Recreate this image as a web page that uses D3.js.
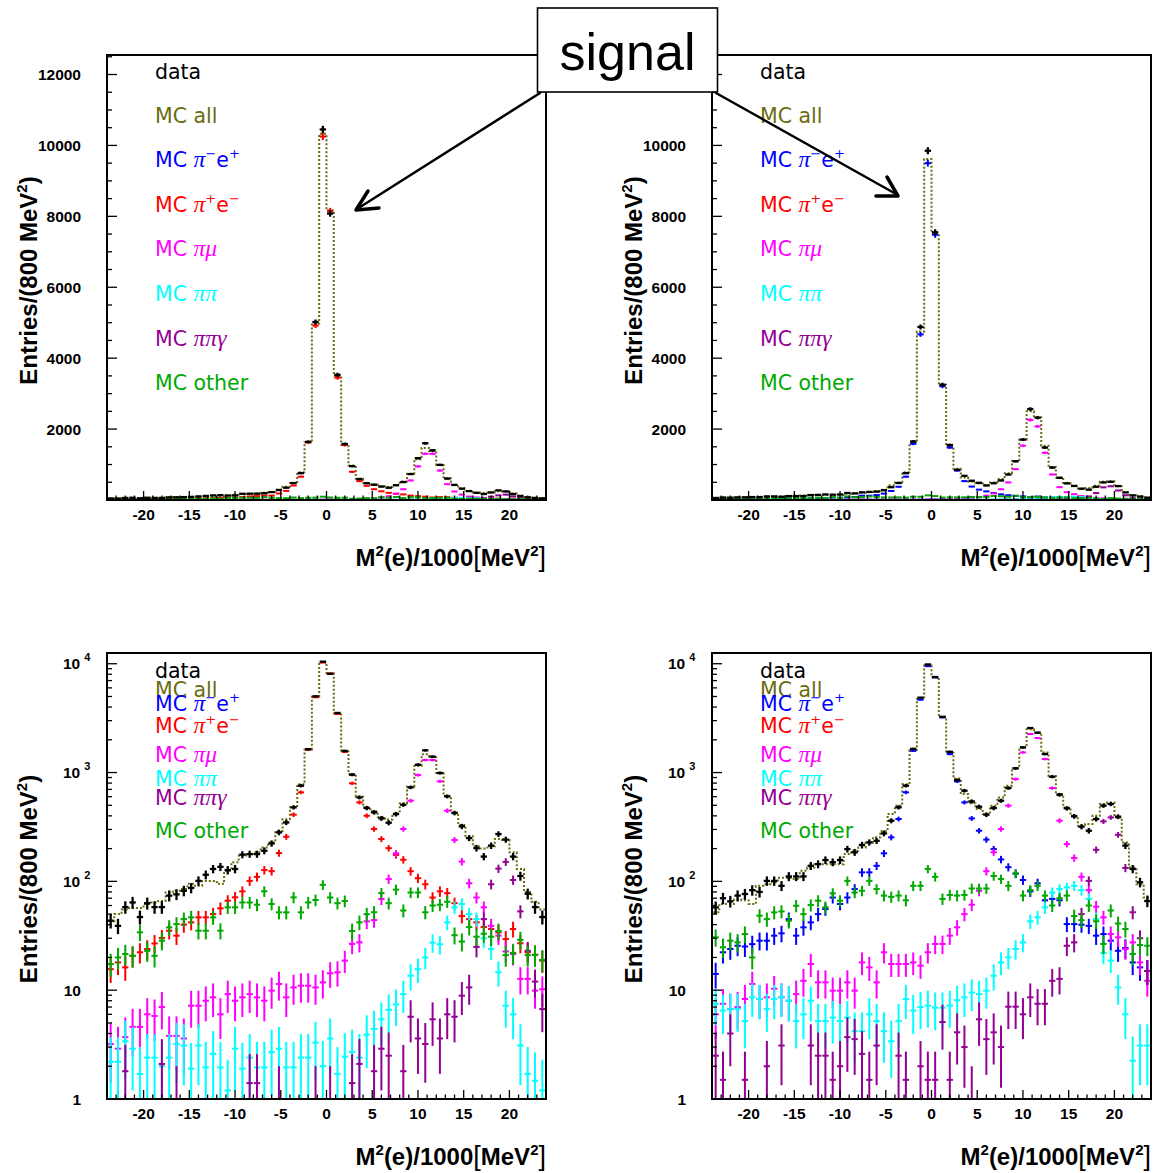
<!DOCTYPE html>
<html><head><meta charset="utf-8">
<script src="https://cdn.jsdelivr.net/npm/d3@7/dist/d3.min.js"></script>
<style>body{margin:0;background:#fff}</style>
</head><body>
<svg id="c" width="1153" height="1173" xmlns="http://www.w3.org/2000/svg"></svg>
<script>
// ---------- DATA ----------
const binCenters = [-23.6,-22.8,-22.0,-21.2,-20.4,-19.6,-18.8,-18.0,-17.2,-16.4,-15.6,-14.8,-14.0,-13.2,-12.4,-11.6,-10.8,-10.0,-9.2,-8.4,-7.6,-6.8,-6.0,-5.2,-4.4,-3.6,-2.8,-2.0,-1.2,-0.4,0.4,1.2,2.0,2.8,3.6,4.4,5.2,6.0,6.8,7.6,8.4,9.2,10.0,10.8,11.6,12.4,13.2,14.0,14.8,15.6,16.4,17.2,18.0,18.8,19.6,20.4,21.2,22.0,22.8,23.6];
const binWidth = 0.8;
const xTickLabels = [-20,-15,-10,-5,0,5,10,15,20];
const yTickLabelsLin = [2000,4000,6000,8000,10000,12000];
const yTickLabelsLog = [1,10,100,1000,10000];

// left (pi+ e- signal)
const dataL = [43.5,39,58,64,47,63,58,58,74,76,82,87,101,115,130,136,127,130,176,178,178,191,223,282,348,479,757,1640,5020,10450,8080,3530,1580,955,591,472,431,379,346,415,506,731,1180,1600,1400,990,604,425,320,250,202,169,213,272,242,169,112,77,58,47];
const mcAllL = [43,50,55,57,57,62,64,66,79,82,85,95,91,101,101,95,125,150,172,178,185,205,228,290,373,479,780,1630,4980,10330,8170,3500,1560,970,600,480,440,390,370,420,520,740,1150,1470,1380,990,610,430,330,260,210,200,210,245,240,185,130,80,65,55];
const blueL = [0,0,0,0,0,0,0,0,0,0,0,0,0,0,0,0,0,0,0,0,0,0,0,0,0,0,0,0,0,0,0,0,0,0,0,0,0,0,0,0,0,0,0,0,0,0,0,0,0,0,0,0,0,0,0,0,0,0,0,0];
const redL = [15.6,18,16.2,20.7,22.3,23.9,26.9,30.2,35.2,31.7,40,42,46.7,46.7,50,56.5,66.4,71.3,80.9,101,110,127,124,182,257,410,658,1622,4920,10250,8150,3450,1550,796,532,401,303,245,202,175,158,124,107,94,71,81,78,63,48,45,42,38,36.5,34,29.5,36.5,27,22.3,21.2,18.7];
const magentaL = [3.2,2.9,3.7,4.6,4.6,6.0,5.8,7.0,3.8,3.8,3.6,7.2,7.2,8.0,8.6,6.0,9.2,8.0,8.6,9.2,8.6,8.0,9.9,11.4,8.6,10.6,11.0,11.0,10.6,11.8,14.3,14.6,18.7,26.6,27.5,42.9,44.1,68.8,105,181,303,551,948,1303,1303,830,446,240,152,96,71,57.7,39,31.7,22.7,21.5,12.7,12.7,9.9,10.2];
const cyanL = [2.2,2.2,3.4,2.9,1.7,2.4,2.4,2.0,2.4,3.2,3.1,1.9,3.1,1.95,2.6,1.95,1.2,2.9,1.9,2.4,1.95,1.95,2.7,2.9,1.95,1.95,2.4,2.4,3.3,2.0,3.6,1.7,2.45,2.7,2.4,3.9,4.4,5.4,6.6,7.4,9.2,13.6,15.6,20,27.3,26.4,42,57.7,62,50,45,30,23.9,14.6,7.2,6.0,3.1,1.7,1.47,1.2];
const purpleL = [0,0,1.8,0,0,0,0,2.1,0,1.0,0,0,0,0,0,0,0,0,0,1.4,1.4,0,0,1.0,0,0,0,0,1.0,0,1.0,0,0,1.4,2.1,0,1.8,2.9,2.5,0,1.8,5.7,3.6,3.2,5.4,3.6,6.0,5.7,8.9,10.6,25,45,94,131,151,103,53,23,12,6.7];
const greenL = [17.4,20,21.5,20.7,34,23,20.7,28.5,37.8,40.5,45,46.7,35.2,35.2,46.7,35.2,57.7,57.7,64,64,61,81,62,51.9,51.9,71.3,51.9,64,67.4,93,71,63,66,35,42,50,52,78,63,84,54,79,79,52,60,61,65,32,28,38,31,33,31,35,21,22,29,21,21,19];

// right (pi- e+ signal)
const dataR = [57.7,70,65.5,74,76.5,83,80,101,101,91,111,111,111,139,144,157,150,157,198,185,216,228,236,276,361,479,757,1650,4880,9850,7550,3250,1550,853,681,543,485,410,472,551,720,1092,1703,2565,2323,1479,916,625,469,396,318,292,374,496,514,393,213,130,98,66];
const mcAllR = [52,62,62,68,67,62,91,94,98,108,108,105,125,134,144,144,144,144,178,191,205,228,254,290,416,495,780,1610,4750,9620,7520,3250,1520,880,635,522,463,415,495,590,757,1100,1700,2500,2330,1530,930,635,478,400,324,336,400,515,530,387,228,134,94,71];
const blueR = [14.1,22.3,23.9,25.6,25.2,26.5,28.5,28.5,31.7,33.3,45,31.7,37.8,42,50,55.7,71,62,71,85,121,121,139,181,254,374,658,1585,4670,9500,7480,3210,1479,830,532,379,292,242,198,159,135,118,103,81,96,67,69,67,40.5,40.5,40,39,31.7,32.8,28.5,23,24.4,18,16.2,15];
const redR = [0,0,0,0,0,0,0,0,0,0,0,0,0,0,0,0,0,0,0,0,0,0,0,0,0,0,0,0,0,0,0,0,0,0,0,0,0,0,0,0,0,0,0,0,0,0,0,0,0,0,0,0,0,0,0,0,0,0,0,0];
const magentaR = [6.0,7.5,6.7,7.0,8.3,11.4,8.3,8.6,10.3,8.6,8.0,9.2,12.2,17.4,11.8,11.8,9.9,9.9,11.8,9.9,18,16.2,11.8,22.3,17.4,17.4,17.4,18,16.8,22.3,26.6,26.6,31.7,37.8,50,61,82,124,185,303,496,871,1531,2259,2075,1331,720,361,220,164,110,83,58.5,46.7,32.8,30.6,23.9,27.5,18,12.2];
const cyanR = [7.5,6.5,6.7,6.7,5.2,8.6,8.3,6.7,8.3,8.6,8.0,5.2,6.0,8.0,5.2,5.2,5.6,5.2,5.6,4.2,4.2,6.0,5.2,4.2,3.4,5.2,8.3,6.5,7.0,7.2,6.9,6.9,7.2,8.1,8.6,9.5,9.2,9.9,13.6,18,20,23.9,27.5,43,46.7,57.7,79,85,88,91,83,69,45,22,18.7,10.6,6.0,2.25,3.1,3.1];
const purpleR = [2.5,1.5,4.0,0,1.5,0,0,2.0,0,3.1,0,0,0,3.1,2.5,2.5,1.5,2.0,3.7,3.55,2.6,1.5,3.1,0,0,2.5,1.5,0,2.0,1.5,1.5,5.1,1.5,4.1,3.0,1.0,5.4,3.55,4.1,3.0,7.05,7.05,6.0,8.6,7.5,7.5,12.2,12.7,25.6,27.5,50,101,195,356,387,268,133,52,30,15];
const greenR = [30.6,24.8,28.5,27.5,32.8,20,48.4,45,51.9,53,43.5,59.7,50,60.6,66.4,57.7,77.6,66.4,101,79,82,101,85,74,72,74,67,91,91,130,110,69,75,74,75,86,86,86,112,105,91,118,74,83,91,74,60,70,74,48,44,60,43,26.6,54,41,36.5,21.5,26,25.6];

// ---------- STYLE ----------
const colors = {data:"#000000", mcAll:"#6b6b10", blue:"#0000ff", red:"#ff0000", magenta:"#ff00ff", cyan:"#00ffff", purple:"#930093", green:"#00a800"};
const fontSans = "'Liberation Sans', Arial, Helvetica, sans-serif";
const fontLegend = "'DejaVu Sans', Verdana, sans-serif";
const fontGreek = "'Liberation Serif', 'Times New Roman', serif";

const svg = d3.select("#c");
svg.append("rect").attr("width",1153).attr("height",1173).attr("fill","#fff");

const panels = [
  {id:"tl", x:107, y:55, w:439, h:445, log:false, side:"L"},
  {id:"tr", x:712, y:55, w:439, h:445, log:false, side:"R"},
  {id:"bl", x:107, y:653, w:439, h:446, log:true, side:"L"},
  {id:"br", x:712, y:653, w:439, h:446, log:true, side:"R"}
];
const signalBox = {x:537.5, y:8, w:180, h:84};

const seriesSets = {
  L: {data:dataL, mcAll:mcAllL, blue:blueL, red:redL, magenta:magentaL, cyan:cyanL, purple:purpleL, green:greenL},
  R: {data:dataR, mcAll:mcAllR, blue:blueR, red:redR, magenta:magentaR, cyan:cyanR, purple:purpleR, green:greenR}
};
const drawOrder = ["blue","red","magenta","cyan","purple","green","data"];

// legend entries: segments [text, kind]  kind: n=normal, g=greek, s=superscript
const legendEntries = [
  {key:"data", segs:[["data","n"]]},
  {key:"mcAll", segs:[["MC all","n"]]},
  {key:"blue", segs:[["MC ","n"],["π","g"],["\u2212","s"],["e","n"],["+","s"]]},
  {key:"red", segs:[["MC ","n"],["π","g"],["+","s"],["e","n"],["\u2212","s"]]},
  {key:"magenta", segs:[["MC ","n"],["πμ","g"]]},
  {key:"cyan", segs:[["MC ","n"],["ππ","g"]]},
  {key:"purple", segs:[["MC ","n"],["ππγ","g"]]},
  {key:"green", segs:[["MC other","n"]]}
];
const legendYTop = [72,116,160,205,249,294,339,383];
const legendYBottom = [671,690,704,726,755,779,798,831];

function addRich(sel, segs, size, supSize){
  let lastSup = false;
  segs.forEach(([t,k])=>{
    const ts = sel.append("tspan").text(t);
    if(k==="g"){ ts.attr("font-family",fontGreek).attr("font-style","italic").attr("font-size",size*1.15); }
    if(k==="s"){ ts.attr("font-size",supSize).attr("dy", lastSup? 0 : -size*0.42); lastSup=true; }
    else { if(lastSup){ ts.attr("dy", size*0.42); } lastSup=false; }
  });
}

panels.forEach((p,pi)=>{
  const S = seriesSets[p.side];
  const x = d3.scaleLinear().domain([-24,24]).range([p.x, p.x+p.w]);
  const y = p.log ? d3.scaleLog().domain([1,12550]).range([p.y+p.h, p.y])
                  : d3.scaleLinear().domain([0,12550]).range([p.y+p.h, p.y]);
  const yBase = p.log ? 1 : 0;
  const cid = "clip"+p.id;
  svg.append("clipPath").attr("id",cid).append("rect")
    .attr("x",p.x).attr("y",p.y).attr("width",p.w).attr("height",p.h);
  const g = svg.append("g").attr("clip-path",`url(#${cid})`);

  // MC all: dotted step histogram
  const pts = [[x(binCenters[0]-binWidth/2), y(yBase)]];
  S.mcAll.forEach((v,i)=>{
    const lo = x(binCenters[i]-binWidth/2), hi = x(binCenters[i]+binWidth/2);
    const yy = y(Math.max(v, yBase));
    pts.push([lo,yy]); pts.push([hi,yy]);
  });
  pts.push([x(binCenters[binCenters.length-1]+binWidth/2), y(yBase)]);
  g.append("path").attr("d", d3.line()(pts)).attr("fill","none")
    .attr("stroke",colors.mcAll).attr("stroke-width",2).attr("stroke-dasharray","2,2");

  // error-bar series
  drawOrder.forEach(key=>{
    const vals = S[key];
    const sg = g.append("g").attr("stroke",colors[key]).attr("stroke-width", key==="data"?2.3:2).attr("fill","none");
    vals.forEach((v,i)=>{
      if(!(v>0)) return;
      const e = Math.sqrt(v);
      const lo = x(binCenters[i]-binWidth/2)+0.5, hi = x(binCenters[i]+binWidth/2)-0.5;
      const cx = x(binCenters[i]);
      let low = v-e; if(p.log && low<=0) low = 0.3;
      const yl = y(low), yh = y(v+e), yc = y(v);
      sg.append("line").attr("x1",lo).attr("x2",hi).attr("y1",yc).attr("y2",yc);
      sg.append("line").attr("x1",cx).attr("x2",cx).attr("y1",yl).attr("y2",yh);
    });
  });

  // frame
  svg.append("rect").attr("x",p.x).attr("y",p.y).attr("width",p.w).attr("height",p.h)
    .attr("fill","none").attr("stroke","#000").attr("stroke-width",2);

  const ax = svg.append("g").attr("stroke","#000").attr("stroke-width",1.3);
  const bot = p.y+p.h;
  // x ticks: minor every 1, major at labels
  d3.range(-24,25,1).forEach(t=>{
    const major = xTickLabels.includes(t);
    ax.append("line").attr("x1",x(t)).attr("x2",x(t)).attr("y1",bot).attr("y2",bot-(major?9:4.5));
  });
  svg.append("g").selectAll("text").data(xTickLabels).join("text")
    .attr("x",d=>x(d)).attr("y",bot+20).attr("text-anchor","middle")
    .attr("font-family",fontSans).attr("font-weight","bold").attr("font-size",15.5).text(d=>d);

  if(!p.log){
    d3.range(500,12501,500).forEach(t=>{
      const major = yTickLabelsLin.includes(t);
      ax.append("line").attr("x1",p.x).attr("x2",p.x+(major?10:5)).attr("y1",y(t)).attr("y2",y(t));
    });
    // labels hidden by the "signal" box in the reference are not drawn
    const visible = yTickLabelsLin.filter(d => !(p.x-60 < signalBox.x+signalBox.w && y(d) < signalBox.y+signalBox.h && p.x > signalBox.x));
    svg.append("g").selectAll("text").data(visible).join("text")
      .attr("x",p.x-26).attr("y",d=>y(d)).attr("dy","0.36em").attr("text-anchor","end")
      .attr("font-family",fontSans).attr("font-weight","bold").attr("font-size",15.5).text(d=>d);
  } else {
    [1,10,100,1000,10000].forEach(dec=>{
      [1,2,3,4,5,6,7,8,9].forEach(m=>{
        const t = dec*m; if(t<1 || t>12550) return;
        ax.append("line").attr("x1",p.x).attr("x2",p.x+(m===1?10:5)).attr("y1",y(t)).attr("y2",y(t));
      });
    });
    yTickLabelsLog.forEach(d=>{
      const tx = svg.append("text").attr("y",y(d)).attr("dy","0.36em")
        .attr("font-family",fontSans).attr("font-weight","bold").attr("font-size",15.5);
      if(d<100){
        tx.attr("x",p.x-26).attr("text-anchor","end").text(d);
      } else {
        tx.attr("x",p.x-44).attr("text-anchor","start");
        tx.append("tspan").text("10");
        tx.append("tspan").attr("dx",4).attr("dy",-8).attr("font-size",11).text(Math.round(Math.log10(d)));
      }
    });
  }

  // axis titles
  const yc = p.y + p.h/2 + 3;
  const yt = svg.append("text").attr("transform",`translate(${p.x-70},${yc}) rotate(-90)`)
    .attr("text-anchor","middle").attr("font-family",fontSans).attr("font-weight","bold").attr("font-size",24);
  yt.append("tspan").text("Entries/(800 MeV");
  yt.append("tspan").attr("dy",-10).attr("font-size",15).text("2");
  yt.append("tspan").attr("dy",10).text(")");

  const xt = svg.append("text").attr("x",p.x+p.w).attr("y",bot+66).attr("text-anchor","end")
    .attr("font-family",fontSans).attr("font-weight","bold").attr("font-size",24);
  xt.append("tspan").text("M");
  xt.append("tspan").attr("dy",-10).attr("font-size",15).text("2");
  xt.append("tspan").attr("dy",10).text("(e)/1000");
  xt.append("tspan").attr("font-weight","normal").attr("font-size",27).text("[");
  xt.append("tspan").text("MeV");
  xt.append("tspan").attr("dy",-10).attr("font-size",15).text("2");
  xt.append("tspan").attr("dy",10).attr("font-weight","normal").attr("font-size",27).text("]");

  // legend
  const ly = p.log ? legendYBottom : legendYTop;
  legendEntries.forEach((le,i)=>{
    const t = svg.append("text").attr("x",p.x+48).attr("y",ly[i]+7)
      .attr("font-family",fontLegend).attr("font-size",20.5).attr("fill",colors[le.key]);
    addRich(t, le.segs, 20.5, 13);
  });
});

// "signal" box and arrows
svg.append("rect").attr("x",signalBox.x).attr("y",signalBox.y).attr("width",signalBox.w).attr("height",signalBox.h)
  .attr("fill","#fff").attr("stroke","#000").attr("stroke-width",1.6);
svg.append("text").attr("x",signalBox.x+signalBox.w/2).attr("y",70).attr("text-anchor","middle")
  .attr("font-family",fontSans).attr("font-size",52).text("signal");
const arr = svg.append("g").attr("stroke","#000").attr("fill","none").attr("stroke-linecap","round").attr("stroke-linejoin","round");
arr.append("line").attr("x1",540).attr("y1",93).attr("x2",357).attr("y2",209).attr("stroke-width",2.5);
arr.append("path").attr("d","M368,191 L356,210 L379,208").attr("stroke-width",3.5);
arr.append("line").attr("x1",716).attr("y1",93).attr("x2",896).attr("y2",194).attr("stroke-width",2.5);
arr.append("path").attr("d","M887,177 L898,196 L876,196").attr("stroke-width",3.5);
</script>
</body></html>
